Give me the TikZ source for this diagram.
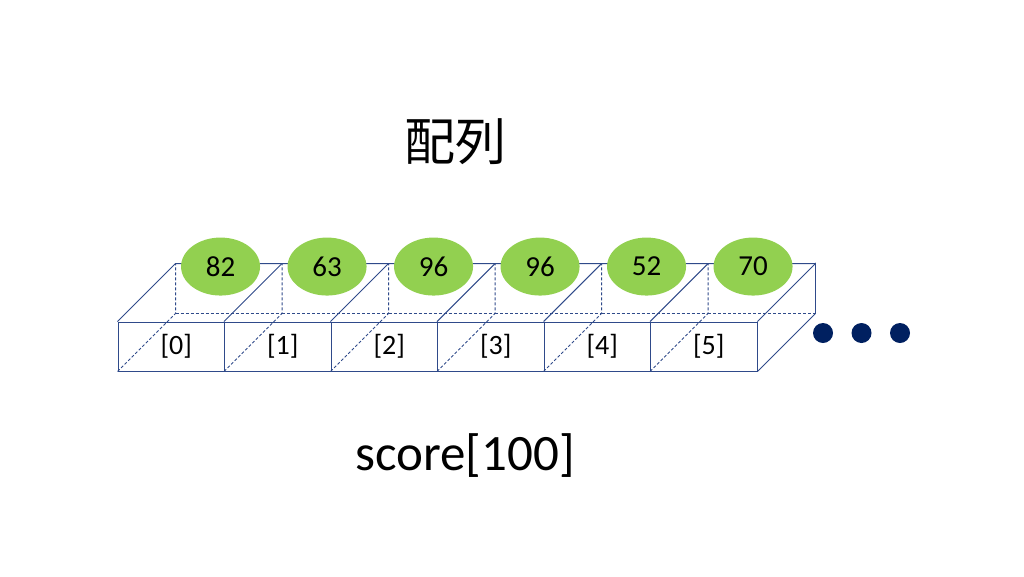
\documentclass[tikz,border=0pt]{standalone}
\usepackage{fontspec}
\setmainfont{Carlito}
\newfontfamily\cjkfont{Noto Sans CJK JP}
\usetikzlibrary{shapes.geometric}
\definecolor{edge}{HTML}{2F4A8A}
\definecolor{val}{HTML}{92D050}
\definecolor{dotc}{HTML}{002060}

\begin{document}
\begin{tikzpicture}[
    x=1pt, y=-1pt,
    face/.style={rectangle, draw=edge, line width=0.9pt,
                 minimum width=106.5pt, minimum height=49pt, inner sep=0pt},
    lbl/.style={font=\fontsize{28}{32}\selectfont},
    valnode/.style={ellipse, fill=val, minimum width=79pt, minimum height=58pt,
                    inner sep=0pt, font=\fontsize{29}{33}\selectfont},
    vis/.style={draw=edge, line width=0.9pt},
    hid/.style={draw=edge, line width=0.9pt, dash pattern=on 3pt off 2pt},
    more/.style={circle, fill=dotc, minimum size=20pt, inner sep=0pt},
]
\useasboundingbox (0,0) rectangle (1024,576);

% title
\node[font=\cjkfont\fontsize{51}{58}\selectfont] (title) at (455,142) {配列};

% the six boxes
\foreach \i in {0,...,5}{
    \node[face] (f\i) at ({171.25+106.5*\i}, 346.5) {};
    \coordinate (tl\i) at ([shift={(58,-58)}]f\i.north west);
    \coordinate (tr\i) at ([shift={(58,-58)}]f\i.north east);
    \coordinate (bl\i) at ([shift={(58,-58)}]f\i.south west);
    \coordinate (br\i) at ([shift={(58,-58)}]f\i.south east);
    \draw[vis] (f\i.north west) -- (tl\i) -- (tr\i);
    \draw[hid] (f\i.south west) -- (bl\i) -- (tl\i);
    \draw[hid] (bl\i) -- (br\i);
    \node[lbl] (l\i) at ([xshift=5]f\i.center) {[\i]};
}
\draw[vis] (f5.north east) -- (tr5) -- (br5) -- (f5.south east);

% the stored values
\foreach \v [count=\i from 0] in {82,63,96,96,52,70}{
    \node[valnode] (v\i) at ([shift={(45,3)}]tl\i) {\v};
}

% and so on
\foreach \k in {0,1,2}{
    \node[more] (d\k) at ({823+38.5*\k}, 333) {};
}

\node[font=\fontsize{51}{58}\selectfont] (name) at (465,456) {score[100]};
\end{tikzpicture}
\end{document}
